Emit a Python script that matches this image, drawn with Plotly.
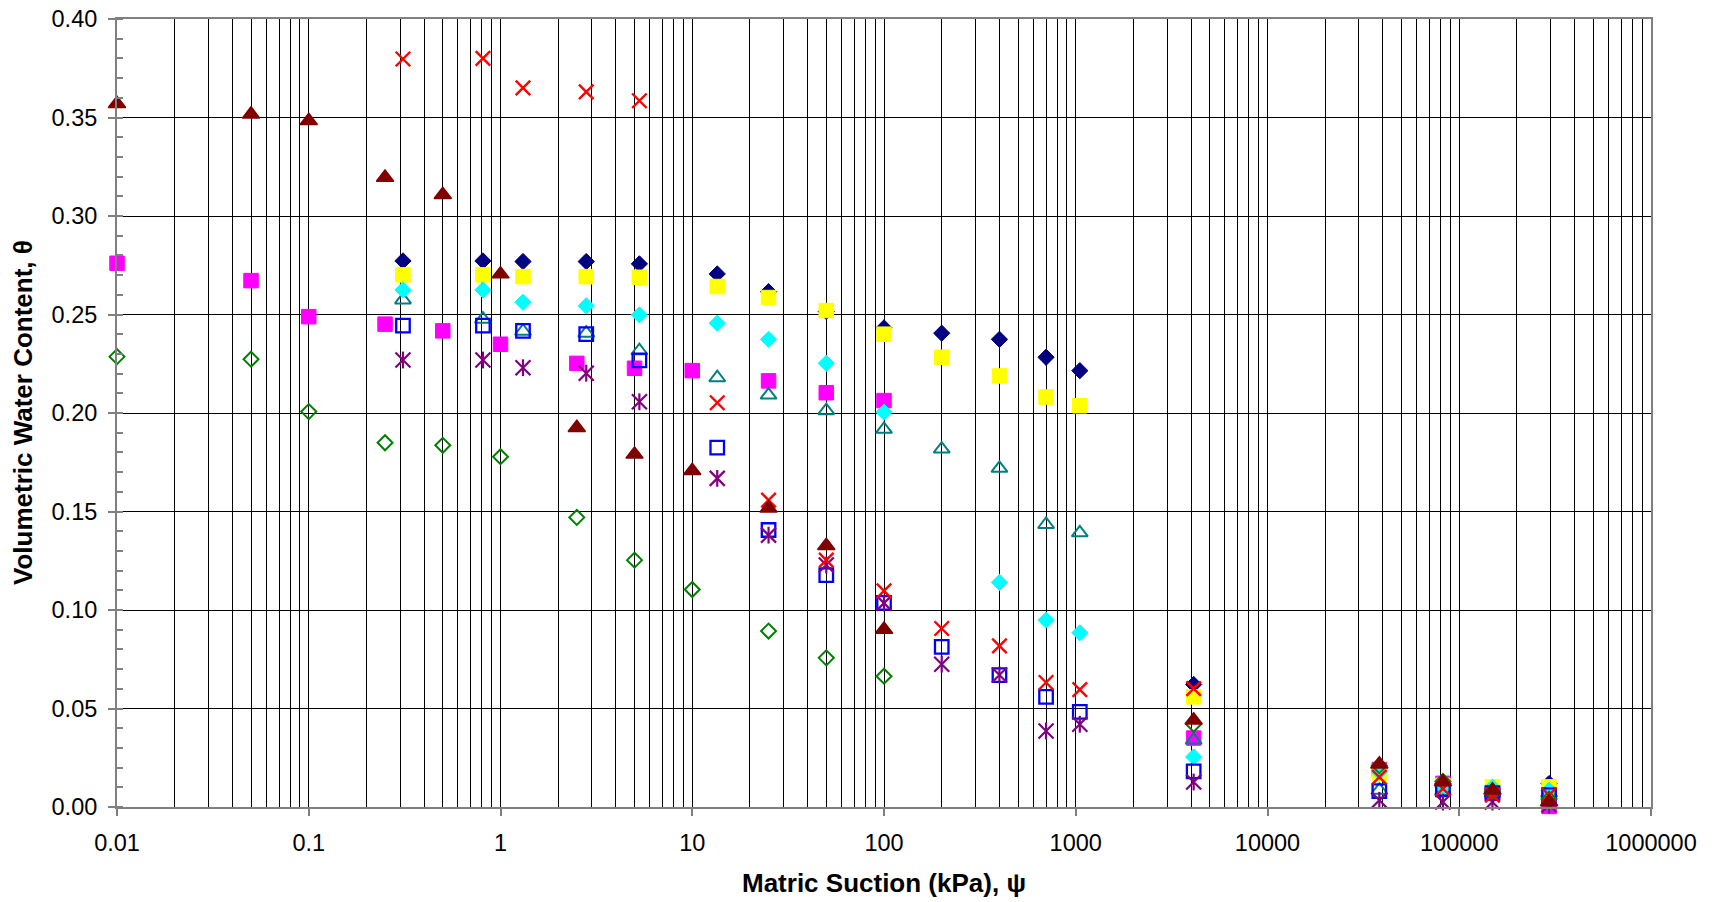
import plotly.graph_objects as go

# Suction values (kPa)
suction_a = [0.31, 0.81, 1.31, 2.8, 5.3, 13.5, 25, 50, 100, 200, 400, 700, 1050,
             4120, 38300, 82200, 149000, 294000]
suction_b = [0.01, 0.05, 0.1, 0.25, 0.5, 1, 2.5, 5, 10, 25, 50, 100,
             4120, 38300, 82200, 149000, 294000]

# Volumetric water content series (suction_a)
navy_diamond = [0.2772, 0.2772, 0.2769, 0.2769, 0.2757, 0.2706, 0.2616, 0.2515, 0.2432,
                0.2405, 0.2374, 0.2283, 0.2215, 0.0622, 0.0200, 0.0120, 0.0090, 0.0119]
yellow_square = [0.2701, 0.2701, 0.2692, 0.2692, 0.2689, 0.2642, 0.2586, 0.2520, 0.2400,
                 0.2283, 0.2188, 0.2081, 0.2037, 0.0559, 0.0170, 0.0110, 0.0102, 0.0102]
cyan_diamond = [0.2625, 0.2625, 0.2562, 0.2544, 0.2498, 0.2456, 0.2374, 0.2252, 0.2004,
                None, 0.1140, 0.0948, 0.0884, 0.0254, 0.0178, 0.0100, 0.0100, 0.0085]
teal_triangle = [0.2574, 0.2476, 0.2415, 0.2405, 0.2316, 0.2179, 0.2091, 0.2012, 0.1917,
                 0.1817, 0.1719, 0.1434, 0.1392, 0.0340, 0.0085, 0.0080, 0.0070, 0.0070]
blue_square = [0.2444, 0.2444, 0.2417, 0.2400, 0.2267, 0.1824, 0.1406, 0.1177, 0.1036,
               0.0813, 0.0669, 0.0559, 0.0483, 0.0181, 0.0081, 0.0090, 0.0070, 0.0060]
purple_star = [0.2269, 0.2269, 0.2230, 0.2202, 0.2057, 0.1668, 0.1380, 0.1228, 0.1035,
               0.0725, 0.0670, 0.0386, 0.0420, 0.0127, 0.0034, 0.0025, 0.0025, 0.0010]
red_x = [0.3797, 0.3800, 0.3650, 0.3630, 0.3585, 0.2052, 0.1558, 0.1253, 0.1097,
         0.0906, 0.0818, 0.0632, 0.0596, 0.0601, 0.0152, 0.0093, 0.0060, 0.0060]

# Series on suction_b
magenta_square = [0.2760, 0.2672, 0.2489, 0.2451, 0.2417, 0.2349, 0.2252, 0.2227, 0.2215,
                  0.2163, 0.2103, 0.2063, 0.0350, 0.0190, 0.0120, 0.0070, 0.0003]
maroon_triangle = [0.3570, 0.3516, 0.3484, 0.3196, 0.3108, 0.2705, 0.1925, 0.1790, 0.1707,
                   0.1516, 0.1326, 0.0901, 0.0440, 0.0217, 0.0127, 0.0085, 0.0025]
green_diamond = [0.2286, 0.2273, 0.2007, 0.1849, 0.1836, 0.1778, 0.1470, 0.1253, 0.1104,
                 0.0893, 0.0757, 0.0664, 0.0420, 0.0210, 0.0130, 0.0080, 0.0040]

x_tick_vals = [0.01, 0.1, 1, 10, 100, 1000, 10000, 100000, 1000000]
x_tick_text = ["0.01", "0.1", "1", "10", "100", "1000", "10000", "100000", "1000000"]

fig = go.Figure()


def add(x, y, symbol, color, size, lw):
    fig.add_trace(go.Scatter(
        x=x, y=y, mode="markers", cliponaxis=False, showlegend=False,
        hoverinfo="x+y",
        marker=dict(symbol=symbol, color=color, size=size,
                    line=dict(color=color, width=lw)),
    ))


add(suction_a, navy_diamond, "diamond", "#000080", 12.5, 1)
add(suction_b, magenta_square, "square", "#FF00FF", 14.5, 1)
add(suction_a, yellow_square, "square", "#FFFF00", 14.5, 1)
add(suction_a, teal_triangle, "triangle-up-open", "#008080", 14, 2)
add(suction_a, cyan_diamond, "diamond", "#00FFFF", 12.5, 1)
add(suction_a, blue_square, "square-open", "#0000FF", 13.5, 2.3)
add(suction_a, purple_star, "x-thin-open", "#800080", 15, 2.2)
add(suction_a, purple_star, "line-ns-open", "#800080", 12, 2.2)
add(suction_b, green_diamond, "diamond-open", "#008000", 11.5, 2)
add(suction_a, red_x, "x-thin-open", "#FF0000", 14.5, 2.4)
add(suction_b, maroon_triangle, "triangle-up", "#800000", 15, 1.5)

font_family = "Liberation Sans, Arial, sans-serif"

fig.update_layout(
    template="none",
    width=1713, height=902,
    margin=dict(l=117, r=62, t=19, b=95, pad=0),
    paper_bgcolor="white", plot_bgcolor="white",
    font=dict(family=font_family, size=23.5, color="black"),
    showlegend=False,
    xaxis=dict(
        type="log", range=[-2, 6], automargin=False,
        tickmode="array", tickvals=x_tick_vals, ticktext=x_tick_text,
        showgrid=True, gridcolor="black", gridwidth=1,
        ticks="outside", ticklen=7, tickwidth=1.5, tickcolor="#808080",
        ticklabelstandoff=7,
        showline=True, linecolor="#808080", linewidth=2, mirror=True,
        zeroline=False,
        minor=dict(dtick="D1", showgrid=True, gridcolor="black", gridwidth=1, ticks=""),
        tickfont=dict(size=23.5, family=font_family, color="black"),
    ),
    yaxis=dict(
        range=[0, 0.40], dtick=0.05, tick0=0, tickformat=".2f", automargin=False,
        showgrid=True, gridcolor="black", gridwidth=1,
        ticks="outside", ticklen=7, tickwidth=1.5, tickcolor="#808080",
        ticklabelstandoff=6,
        showline=True, linecolor="#808080", linewidth=2, mirror=True,
        zeroline=False,
        minor=dict(dtick=0.01, ticks="inside", ticklen=6, tickwidth=1.5,
                   tickcolor="#808080", showgrid=False),
        tickfont=dict(size=23.5, family=font_family, color="black"),
    ),
    annotations=[
        dict(text="<b>Matric Suction (kPa), ψ</b>", xref="paper", yref="paper",
             x=0.5, y=0, xanchor="center", yanchor="middle", yshift=-76,
             showarrow=False, font=dict(size=26, family=font_family, color="black")),
        dict(text="<b>Volumetric Water Content, θ</b>", xref="paper", yref="paper",
             x=0, y=0.5, xanchor="center", yanchor="middle", xshift=-94,
             textangle=-90, showarrow=False, font=dict(size=26, family=font_family, color="black")),
    ],
)

fig.write_html("out.html", config={"displayModeBar": False},
               post_script="document.body.style.margin='0';document.body.style.overflow='hidden';")
